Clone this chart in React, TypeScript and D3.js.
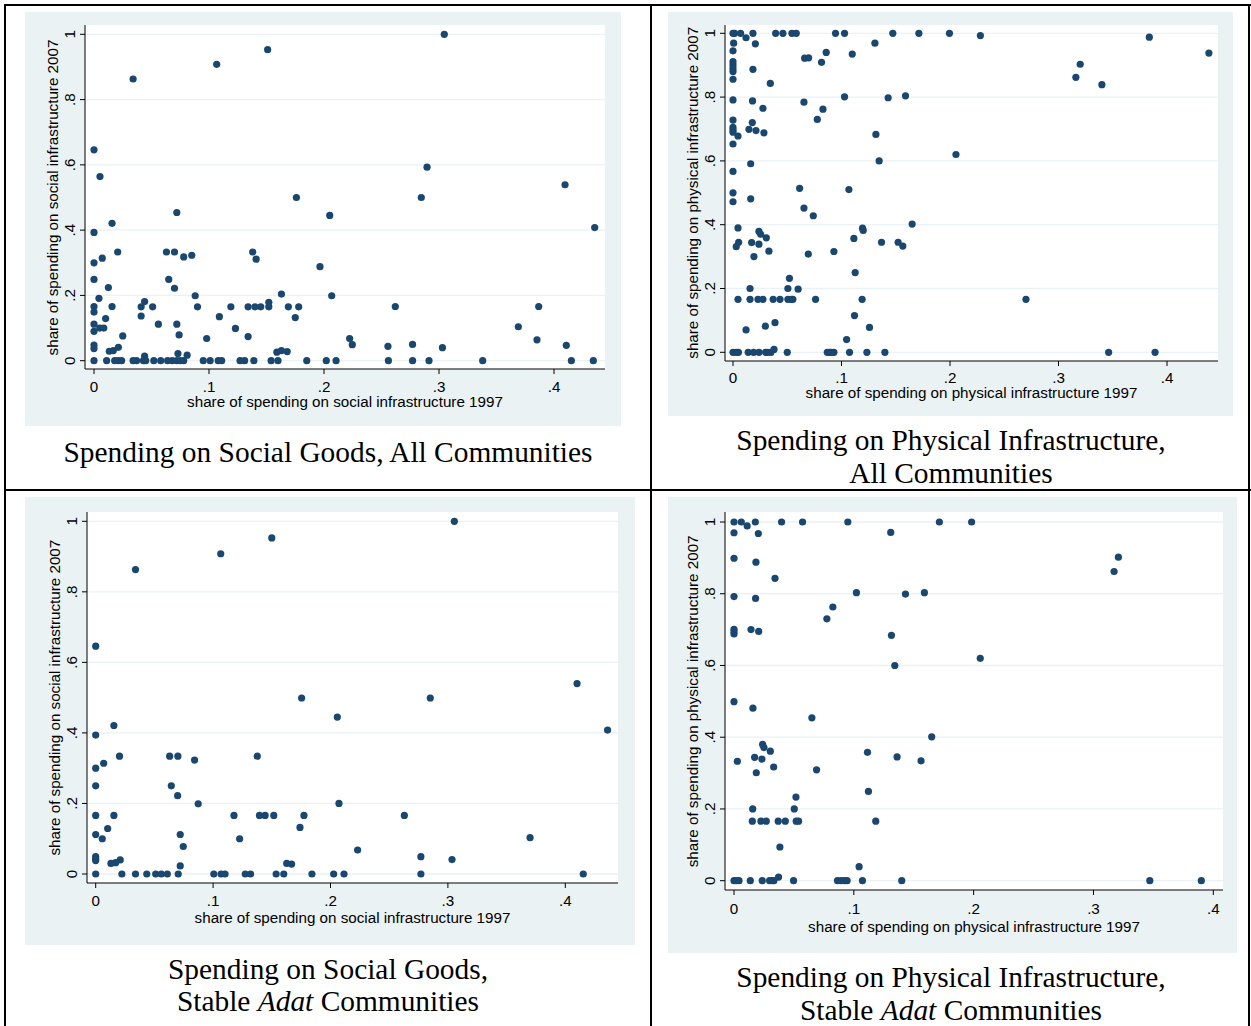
import React from "react";
import * as d3 from "d3";

// ---------- data (x = share 1997, y = share 2007) ----------
const socialAll: [number, number][] = [
  [0, 0.646], [0.0052, 0.564], [0.034, 0.863], [0.1067, 0.908], [0.151, 0.953], [0.176, 0.5],
  [0.072, 0.454], [0.0157, 0.421], [0, 0.393], [0, 0.3], [0.0072, 0.314], [0.0206, 0.333],
  [0, 0.249], [0, 0.166], [0, 0.149], [0, 0.112], [0, 0.09], [0, 0.048], [0, 0.037], [0, 0],
  [0.0043, 0.191], [0.005, 0.1], [0.0085, 0.1], [0.0101, 0.129], [0.0125, 0.224], [0.0157, 0.166],
  [0.0133, 0.029], [0.0168, 0.031], [0.0212, 0.041], [0.025, 0.076],
  [0.011, 0], [0.018, 0], [0.021, 0], [0.024, 0], [0.034, 0], [0.037, 0], [0.043, 0], [0.045, 0],
  [0.052, 0], [0.058, 0], [0.064, 0], [0.068, 0], [0.072, 0], [0.075, 0], [0.078, 0], [0.095, 0],
  [0.101, 0], [0.108, 0], [0.111, 0], [0.127, 0], [0.131, 0], [0.139, 0], [0.154, 0], [0.16, 0],
  [0.185, 0], [0.202, 0], [0.2105, 0],
  [0.041, 0.137], [0.041, 0.165], [0.044, 0.181], [0.044, 0.014], [0.051, 0.165], [0.056, 0.112],
  [0.073, 0.022], [0.081, 0.017], [0.074, 0.079], [0.072, 0.112], [0.07, 0.222], [0.065, 0.249],
  [0.063, 0.333], [0.07, 0.333], [0.078, 0.318], [0.085, 0.323], [0.088, 0.199], [0.09, 0.165],
  [0.098, 0.068], [0.109, 0.135], [0.119, 0.165], [0.123, 0.099], [0.134, 0.165], [0.134, 0.074],
  [0.138, 0.333], [0.141, 0.311], [0.14, 0.165], [0.145, 0.165], [0.152, 0.179], [0.152, 0.165],
  [0.159, 0.026], [0.163, 0.031], [0.168, 0.028], [0.163, 0.204], [0.169, 0.165], [0.175, 0.132],
  [0.178, 0.165], [0.1965, 0.288], [0.205, 0.445], [0.2067, 0.199],
  [0.3046, 1.0], [0.2896, 0.593], [0.2846, 0.5], [0.262, 0.166], [0.2223, 0.068], [0.2246, 0.049],
  [0.2556, 0.044], [0.277, 0.05], [0.303, 0.04], [0.256, 0], [0.277, 0], [0.2913, 0], [0.338, 0],
  [0.369, 0.104], [0.3867, 0.166], [0.3852, 0.064], [0.4096, 0.539], [0.4107, 0.047], [0.4151, 0],
  [0.4342, 0], [0.4354, 0.408],
];

const physicalAll: [number, number][] = [
  [0, 1], [0.0015, 1], [0.007, 1], [0.0184, 1], [0.0393, 1], [0.046, 1], [0.0543, 1], [0.0583, 1],
  [0.0945, 1], [0.1028, 1], [0.1473, 1], [0.1713, 1], [0.1995, 1], [0.012, 0.986],
  [0.228, 0.993], [0.3837, 0.988], [0.4386, 0.938], [0.32, 0.903], [0.316, 0.862], [0.34, 0.839],
  [0.2055, 0.62], [0.27, 0.166], [0.3462, 0], [0.389, 0],
  [0.0006, 0.969], [0, 0.945], [0, 0.911], [0, 0.901], [0, 0.89], [0, 0.88], [0, 0.856],
  [0, 0.791], [0, 0.728], [0, 0.705], [0, 0.697], [0, 0.69], [0.0046, 0.678], [0, 0.653],
  [0, 0.567], [0, 0.5], [0, 0.472], [0.0046, 0.39], [0.0052, 0.345], [0.003, 0.331],
  [0.0046, 0.166], [0, 0], [0.003, 0], [0.005, 0],
  [0.0184, 0.887], [0.0206, 0.967], [0.018, 0.788], [0.0276, 0.765], [0.0344, 0.843],
  [0.0178, 0.72], [0.0147, 0.699], [0.0212, 0.695], [0.0285, 0.688], [0.0163, 0.591],
  [0.0163, 0.481], [0.0239, 0.379], [0.0255, 0.37], [0.0307, 0.359], [0.0172, 0.344],
  [0.0239, 0.339], [0.0331, 0.317], [0.0193, 0.3], [0.0157, 0.2], [0.0157, 0.166],
  [0.023, 0.166], [0.0276, 0.166], [0.037, 0.166], [0.0433, 0.166], [0.0298, 0.082],
  [0.0387, 0.093], [0.012, 0.07], [0.014, 0], [0.019, 0], [0.024, 0], [0.03, 0], [0.032, 0],
  [0.035, 0], [0.0378, 0.009], [0.05, 0], [0.0506, 0.2], [0.052, 0.232], [0.0506, 0.166],
  [0.0537, 0.166], [0.0552, 0.166], [0.06, 0.198], [0.0614, 0.514], [0.0654, 0.452],
  [0.074, 0.428], [0.0694, 0.308], [0.0761, 0.166], [0.066, 0.922], [0.0697, 0.923],
  [0.0654, 0.784], [0.0777, 0.73], [0.0829, 0.762], [0.0859, 0.94], [0.0816, 0.909],
  [0.1099, 0.935], [0.1028, 0.801], [0.093, 0.316], [0.1068, 0.51], [0.1114, 0.357],
  [0.1126, 0.25], [0.1194, 0.389], [0.12, 0.382], [0.119, 0.166], [0.112, 0.115],
  [0.1258, 0.078], [0.1047, 0.04], [0.0869, 0], [0.089, 0], [0.0905, 0], [0.093, 0],
  [0.1074, 0], [0.1234, 0], [0.14, 0], [0.1308, 0.969], [0.1317, 0.683], [0.1347, 0.6],
  [0.1369, 0.345], [0.143, 0.798], [0.159, 0.804], [0.1522, 0.345], [0.1565, 0.333],
  [0.1651, 0.402],
];

const socialStable: [number, number][] = [
  [0, 0.646], [0.0339, 0.863], [0.1065, 0.908], [0.15, 0.953], [0.1754, 0.499], [0.0155, 0.421],
  [0, 0.394], [0.0068, 0.314], [0, 0.3], [0.0203, 0.334], [0, 0.25], [0, 0.166], [0.0155, 0.166],
  [0, 0.112], [0.0056, 0.1], [0.0102, 0.129], [0, 0.049], [0, 0.043], [0, 0.038], [0, 0],
  [0.013, 0.03], [0.017, 0.032], [0.0209, 0.04],
  [0.0223, 0], [0.0339, 0], [0.0435, 0], [0.0511, 0], [0.0559, 0], [0.061, 0], [0.0703, 0],
  [0.1006, 0], [0.1068, 0], [0.1102, 0], [0.1274, 0], [0.1319, 0], [0.1537, 0], [0.1602, 0],
  [0.1842, 0], [0.2027, 0], [0.2115, 0], [0.277, 0], [0.4153, 0],
  [0.063, 0.334], [0.07, 0.334], [0.0644, 0.25], [0.0698, 0.222], [0.072, 0.112], [0.0746, 0.078],
  [0.072, 0.023], [0.0842, 0.323], [0.0873, 0.199], [0.1178, 0.166], [0.1226, 0.1],
  [0.1376, 0.334], [0.1395, 0.166], [0.1443, 0.166], [0.1517, 0.166], [0.1627, 0.03],
  [0.1669, 0.028], [0.174, 0.132], [0.1774, 0.166],
  [0.3055, 1.0], [0.285, 0.499], [0.2058, 0.445], [0.41, 0.54], [0.436, 0.408], [0.2072, 0.2],
  [0.2629, 0.166], [0.37, 0.103], [0.2231, 0.068], [0.277, 0.049], [0.3035, 0.041],
];

const physicalStable: [number, number][] = [
  [0, 1], [0.0061, 1], [0.0178, 1], [0.0397, 1], [0.0572, 1], [0.095, 1], [0.1714, 1],
  [0.1983, 1], [0.011, 0.989], [0, 0.97], [0.0203, 0.968], [0, 0.899], [0.0183, 0.888],
  [0.0342, 0.843], [0, 0.792], [0.018, 0.787], [0, 0.701], [0, 0.694], [0, 0.688],
  [0.0142, 0.7], [0.0206, 0.695], [0, 0.499], [0.0158, 0.481], [0.0028, 0.333],
  [0.0239, 0.38], [0.025, 0.371], [0.0303, 0.361], [0.0172, 0.344], [0.0233, 0.339],
  [0.0331, 0.317], [0.0186, 0.301], [0.0156, 0.2], [0.0153, 0.166], [0.0225, 0.166],
  [0.0269, 0.166], [0.0369, 0.166], [0.0428, 0.166], [0.0383, 0.094],
  [0, 0], [0.0019, 0], [0.0042, 0], [0.0136, 0], [0.0236, 0], [0.0297, 0], [0.0319, 0],
  [0.0333, 0], [0.0372, 0.01], [0.0497, 0],
  [0.0503, 0.2], [0.0517, 0.233], [0.0519, 0.166], [0.0539, 0.166], [0.065, 0.454],
  [0.0689, 0.309], [0.0775, 0.73], [0.0825, 0.763], [0.1022, 0.803], [0.1114, 0.358],
  [0.1122, 0.249], [0.1183, 0.166], [0.1044, 0.039], [0.0864, 0], [0.0894, 0], [0.0922, 0],
  [0.0944, 0], [0.1072, 0], [0.14, 0], [0.1308, 0.971], [0.1314, 0.684], [0.1342, 0.6],
  [0.1361, 0.345], [0.1431, 0.799], [0.1589, 0.803], [0.1561, 0.334], [0.165, 0.401],
  [0.3208, 0.902], [0.3172, 0.862], [0.2055, 0.62], [0.347, 0], [0.39, 0],
];

const xTicks = [0, 0.1, 0.2, 0.3, 0.4];
const yTicks = [0, 0.2, 0.4, 0.6, 0.8, 1];
const fmt = (v: number) => (v === 0 ? "0" : v === 1 ? "1" : String(v).replace(/^0/, ""));

// ---------- layout ----------
type Panel = {
  data: [number, number][];
  outer: [number, number, number, number];
  plot: [number, number, number, number];
  xr: [number, number];
  yr: [number, number];
  ytitle: string;
  xtitle: string;
  xtickY: number;
  xtitleY: number;
  cap: React.ReactNode[];
  capY: number[];
  capX: number;
};

const NAVY = "#1a476f";
const BG = "#eaf2f3";
const SANS = "'Liberation Sans', Arial, Helvetica, sans-serif";
const SERIF = "'Liberation Serif', 'Times New Roman', Times, serif";
const AXFS = 15.2;
const CAPFS = 29.4;

const panels: Panel[] = [
  {
    data: socialAll,
    outer: [25, 12, 621, 426],
    plot: [85, 25, 605, 369],
    xr: [94, 554],
    yr: [360.7, 34.3],
    ytitle: "share of spending on social infrastructure 2007",
    xtitle: "share of spending on social infrastructure 1997",
    xtickY: 386,
    xtitleY: 401.5,
    cap: ["Spending on Social Goods, All Communities"],
    capY: [452],
    capX: 328,
  },
  {
    data: physicalAll,
    outer: [668, 12, 1233, 416],
    plot: [725, 25, 1218, 361],
    xr: [733, 1167],
    yr: [352.3, 33.3],
    ytitle: "share of spending on physical infrastructure 2007",
    xtitle: "share of spending on physical infrastructure 1997",
    xtickY: 377,
    xtitleY: 392.5,
    cap: ["Spending on Physical Infrastructure,", "All Communities"],
    capY: [440, 473],
    capX: 951,
  },
  {
    data: socialStable,
    outer: [25, 497, 635, 945],
    plot: [87, 512, 618, 883],
    xr: [95.7, 565.3],
    yr: [874, 521.3],
    ytitle: "share of spending on social infrastructure 2007",
    xtitle: "share of spending on social infrastructure 1997",
    xtickY: 900,
    xtitleY: 917.5,
    cap: [
      "Spending on Social Goods,",
      <>
        Stable <tspan fontStyle="italic">Adat</tspan> Communities
      </>,
    ],
    capY: [969, 1001],
    capX: 328,
  },
  {
    data: physicalStable,
    outer: [668, 497, 1237, 953],
    plot: [725, 512, 1223, 890],
    xr: [734, 1213.3],
    yr: [880.7, 522],
    ytitle: "share of spending on physical infrastructure 2007",
    xtitle: "share of spending on physical infrastructure 1997",
    xtickY: 908,
    xtitleY: 926.5,
    cap: [
      "Spending on Physical Infrastructure,",
      <>
        Stable <tspan fontStyle="italic">Adat</tspan> Communities
      </>,
    ],
    capY: [977, 1010],
    capX: 951,
  },
];

function PanelView({ p }: { p: Panel }) {
  const x = d3.scaleLinear().domain([0, 0.4]).range(p.xr);
  const y = d3.scaleLinear().domain([0, 1]).range(p.yr);
  const [px0, py0, px1, py1] = p.plot;
  const [ox0, oy0, ox1, oy1] = p.outer;
  const yMid = (y(0) + y(1)) / 2;
  const xMid = (px0 + px1) / 2;
  return (
    <g>
      <rect x={ox0} y={oy0} width={ox1 - ox0} height={oy1 - oy0} fill={BG} />
      <rect x={px0} y={py0} width={px1 - px0} height={py1 - py0} fill="#ffffff" />
      {yTicks.map((t) => (
        <line key={"g" + t} x1={px0} x2={px1} y1={y(t)} y2={y(t)} stroke={BG} strokeWidth={1.3} />
      ))}
      {p.data.map((d, i) => (
        <circle key={i} cx={x(d[0])} cy={y(d[1])} r={3.6} fill={NAVY} />
      ))}
      <line x1={px0} x2={px0} y1={py0} y2={py1} stroke="#000" strokeWidth={1} />
      <line x1={px0} x2={px1} y1={py1} y2={py1} stroke="#000" strokeWidth={1} />
      {yTicks.map((t) => (
        <g key={"y" + t}>
          <line x1={px0 - 5} x2={px0} y1={y(t)} y2={y(t)} stroke="#000" strokeWidth={1} />
          <text
            transform={`translate(${px0 - 16},${y(t)}) rotate(-90)`}
            textAnchor="middle"
            dominantBaseline="central"
            fontFamily={SANS}
            fontSize={AXFS}
            fill="#000"
          >
            {fmt(t)}
          </text>
        </g>
      ))}
      {xTicks.map((t) => (
        <g key={"x" + t}>
          <line x1={x(t)} x2={x(t)} y1={py1} y2={py1 + 5} stroke="#000" strokeWidth={1} />
          <text
            x={x(t)}
            y={p.xtickY}
            textAnchor="middle"
            dominantBaseline="central"
            fontFamily={SANS}
            fontSize={AXFS}
            fill="#000"
          >
            {fmt(t)}
          </text>
        </g>
      ))}
      <text
        transform={`translate(${px0 - 33},${yMid}) rotate(-90)`}
        textAnchor="middle"
        dominantBaseline="central"
        fontFamily={SANS}
        fontSize={AXFS}
        fill="#000"
      >
        {p.ytitle}
      </text>
      <text
        x={xMid}
        y={p.xtitleY}
        textAnchor="middle"
        dominantBaseline="central"
        fontFamily={SANS}
        fontSize={AXFS}
        fill="#000"
      >
        {p.xtitle}
      </text>
      {p.cap.map((c, i) => (
        <text
          key={"c" + i}
          x={p.capX}
          y={p.capY[i]}
          textAnchor="middle"
          dominantBaseline="central"
          fontFamily={SERIF}
          fontSize={CAPFS}
          fill="#000"
        >
          {c}
        </text>
      ))}
    </g>
  );
}

export default function App() {
  return (
    <svg
      width={1251}
      height={1026}
      style={{ position: "absolute", left: 0, top: 0, background: "#fff" }}
    >
      <rect x={0} y={0} width={1251} height={1026} fill="#fff" />
      {panels.map((p, i) => (
        <PanelView key={i} p={p} />
      ))}
      <line x1={5} x2={5} y1={4} y2={1026} stroke="#000" strokeWidth={2} />
      <line x1={4} x2={1251} y1={5} y2={5} stroke="#000" strokeWidth={2} />
      <line x1={651} x2={651} y1={4} y2={1026} stroke="#000" strokeWidth={2} />
      <line x1={1249} x2={1249} y1={4} y2={1026} stroke="#000" strokeWidth={2} />
      <line x1={4} x2={1251} y1={490} y2={490} stroke="#000" strokeWidth={2} />
    </svg>
  );
}
